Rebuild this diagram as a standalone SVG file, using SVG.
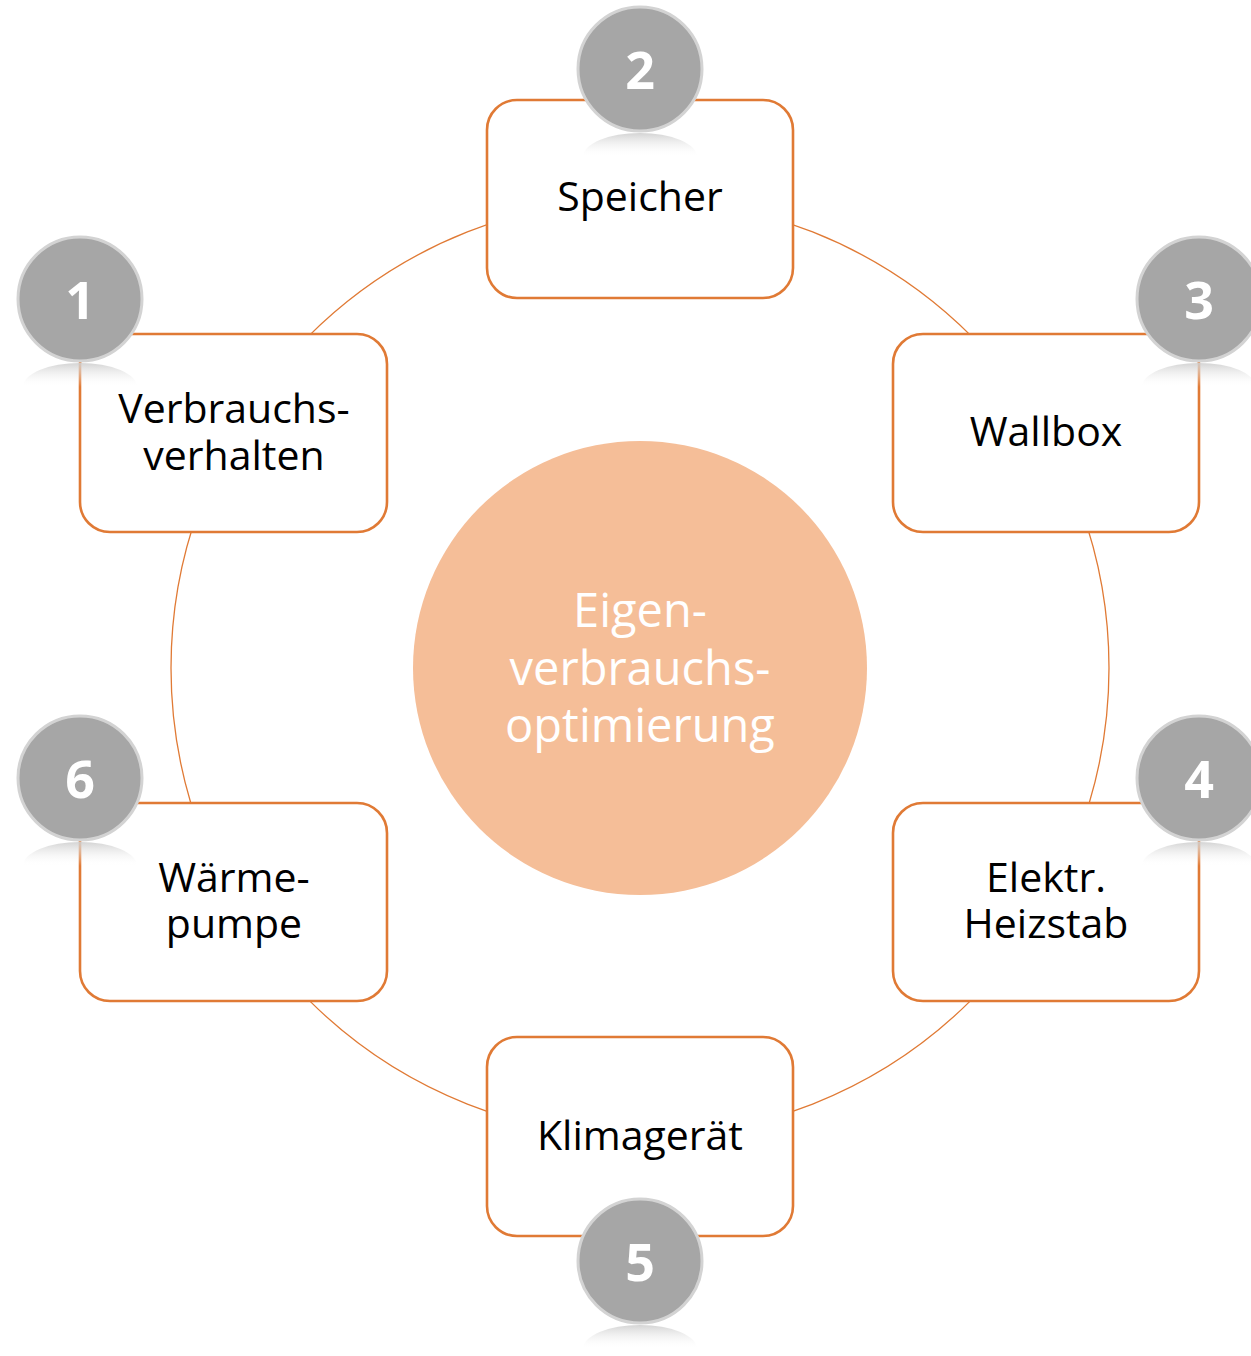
<svg xmlns="http://www.w3.org/2000/svg" width="1251" height="1356" viewBox="0 0 1251 1356">
<defs>
<style>
.box{fill:#fff;stroke:#E07A35;stroke-width:2.6}
.lbl{font-family:"Open Sans","Liberation Sans",sans-serif;font-size:41px;fill:#000;text-anchor:middle}
.num{fill:#A6A6A6;stroke:#D3D3D3;stroke-width:3}
.numt{font-family:"Open Sans","Liberation Sans",sans-serif;font-size:52px;font-weight:bold;fill:#fff;text-anchor:middle}
.ctr{font-family:"Open Sans","Liberation Sans",sans-serif;font-size:47px;fill:#fff;text-anchor:middle}
</style>
<linearGradient id="refl" x1="0" y1="0" x2="0" y2="1">
<stop offset="0" stop-color="#CFCFCF" stop-opacity="0.9"/>
<stop offset="1" stop-color="#FFFFFF" stop-opacity="0"/>
</linearGradient>
<g id="badge">
<path d="M-57,88 A57,24 0 0 1 57,88 Z" fill="url(#refl)"/>
<circle class="num" r="62"/>
</g>
</defs>
<rect width="1251" height="1356" fill="#fff"/>
<g id="connectors">
<circle cx="640" cy="668" r="469" fill="none" stroke="#E07A35" stroke-width="1.3"/>
</g>
<g id="center">
<circle cx="640" cy="668" r="227" fill="#F5BE98"/>
<text class="ctr" x="640" y="627">Eigen-</text>
<text class="ctr" x="640" y="685">verbrauchs-</text>
<text class="ctr" x="640" y="742">optimierung</text>
</g>
<g id="node2">
<rect class="box" x="487" y="100" width="306" height="198" rx="30"/>
<text class="lbl" x="640" y="211">Speicher</text>
<use href="#badge" x="640" y="69"/>
<text class="numt" x="640" y="89">2</text>
</g>
<g id="node1">
<rect class="box" x="80" y="334" width="307" height="198" rx="30"/>
<text class="lbl" x="234" y="423">Verbrauchs-</text>
<text class="lbl" x="234" y="470">verhalten</text>
<use href="#badge" x="80" y="299"/>
<text class="numt" x="80" y="319">1</text>
</g>
<g id="node3">
<rect class="box" x="893" y="334" width="306" height="198" rx="30"/>
<text class="lbl" x="1046" y="446">Wallbox</text>
<use href="#badge" x="1199" y="299"/>
<text class="numt" x="1199" y="319">3</text>
</g>
<g id="node6">
<rect class="box" x="80" y="803" width="307" height="198" rx="30"/>
<text class="lbl" x="234" y="892">Wärme-</text>
<text class="lbl" x="234" y="938">pumpe</text>
<use href="#badge" x="80" y="778"/>
<text class="numt" x="80" y="798">6</text>
</g>
<g id="node4">
<rect class="box" x="893" y="803" width="306" height="198" rx="30"/>
<text class="lbl" x="1046" y="892">Elektr.</text>
<text class="lbl" x="1046" y="938">Heizstab</text>
<use href="#badge" x="1199" y="778"/>
<text class="numt" x="1199" y="798">4</text>
</g>
<g id="node5">
<rect class="box" x="487" y="1037" width="306" height="199" rx="30"/>
<text class="lbl" x="640" y="1150">Klimagerät</text>
<use href="#badge" x="640" y="1261"/>
<text class="numt" x="640" y="1281">5</text>
</g>
</svg>
